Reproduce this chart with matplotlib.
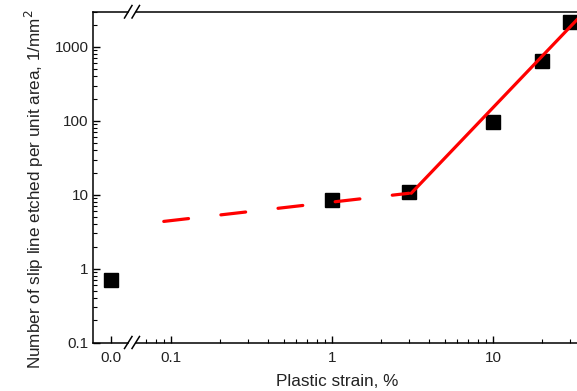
import matplotlib
matplotlib.use("Agg")
import matplotlib.pyplot as plt
from matplotlib.lines import Line2D
from matplotlib.ticker import LogLocator, FixedLocator, FixedFormatter, NullFormatter

plt.rcParams['font.family'] = ['Liberation Sans', 'DejaVu Sans']

# ---- data ----
strain_zero = [0.0]
density_zero = [0.71]
strain = [1, 3, 10, 20, 30]
density = [8.6, 10.9, 97, 640, 2200]
fit_dash_x = [0.09, 3.0]
fit_dash_y = [4.37, 10.5]
fit_solid_x = [3.1, 35]
fit_solid_y = [10.5, 2640]
y_ticks = [0.1, 1, 10, 100, 1000]
y_ticklabels = ["0.1", "1", "10", "100", "1000"]
x_ticks = [0.1, 1, 10]
x_ticklabels = ["0.1", "1", "10"]

W, H = 577, 391
fig = plt.figure(figsize=(W / 100, H / 100), dpi=100)

def rect(x0, y0, x1, y1):
    return [x0 / W, 1 - y1 / H, (x1 - x0) / W, (y1 - y0) / H]

top, bot = 11.7, 342.7
ax0 = fig.add_axes(rect(93, top, 128, bot))
ax1 = fig.add_axes(rect(136, top, 577, bot))

for ax in (ax0, ax1):
    ax.set_yscale('log')
    ax.set_ylim(0.1, 3000)
    ax.tick_params(direction='in', which='major', length=5, width=1, labelsize=11,
                   colors='black', labelcolor='#222222')
    ax.tick_params(direction='in', which='minor', length=3, width=0.8)
    for s in ax.spines.values():
        s.set_linewidth(1.1)

# left (zero) panel
ax0.set_xlim(-1.0, 0.944)
ax0.xaxis.set_major_locator(FixedLocator([0.0]))
ax0.xaxis.set_major_formatter(FixedFormatter(["0.0"]))
ax0.spines['right'].set_visible(False)
ax0.yaxis.set_major_locator(FixedLocator(y_ticks))
ax0.yaxis.set_major_formatter(FixedFormatter(y_ticklabels))
ax0.yaxis.set_minor_locator(LogLocator(base=10, subs=range(2, 10), numticks=20))
ax0.yaxis.set_minor_formatter(NullFormatter())
ax0.tick_params(axis='x', pad=6)
ax0.tick_params(axis='y', pad=3)
ax0.plot(strain_zero, density_zero, 's', color='black', markersize=9.5, clip_on=False)

# right (log) panel
ax1.set_xscale('log')
ax1.set_xlim(0.0605, 33.2)
ax1.spines['left'].set_visible(False)
ax1.spines['right'].set_visible(False)
ax1.tick_params(axis='y', which='both', left=False, labelleft=False)
ax1.xaxis.set_major_locator(FixedLocator(x_ticks))
ax1.xaxis.set_major_formatter(FixedFormatter(x_ticklabels))
ax1.xaxis.set_minor_locator(LogLocator(base=10, subs=range(2, 10), numticks=20))
ax1.xaxis.set_minor_formatter(NullFormatter())
ax1.tick_params(axis='x', pad=6)
ax1.plot(strain, density, 's', color='black', markersize=9.5, zorder=2)
ax1.plot(fit_dash_x, fit_dash_y, color='#ff0000', lw=2.3, zorder=3,
         dashes=(7.8, 10.2), solid_capstyle='round', dash_capstyle='round')
ax1.plot(fit_solid_x, fit_solid_y, color='#ff0000', lw=2.3, zorder=3,
         solid_capstyle='round')

# break marks
def seg(x0, y0, x1, y1):
    fig.add_artist(Line2D([x0 / W, x1 / W], [1 - y0 / H, 1 - y1 / H],
                          color='black', lw=1.1, transform=fig.transFigure))

for dx in (0, 7.5):
    seg(124.5 + dx, 348.5, 132 + dx, 336.5)
    seg(124.5 + dx, 18, 132 + dx, 5.5)

fig.text(337 / W, 1 - 382 / H, "Plastic strain, %", ha='center', va='center',
         fontsize=12.3, color='#222222')
fig.text(34 / W, 1 - 189 / H, "Number of slip line etched per unit area, 1/mm$^2$",
         ha='center', va='center', rotation=90, fontsize=12.3, color='#222222')

fig.savefig("out.png", dpi=100)
